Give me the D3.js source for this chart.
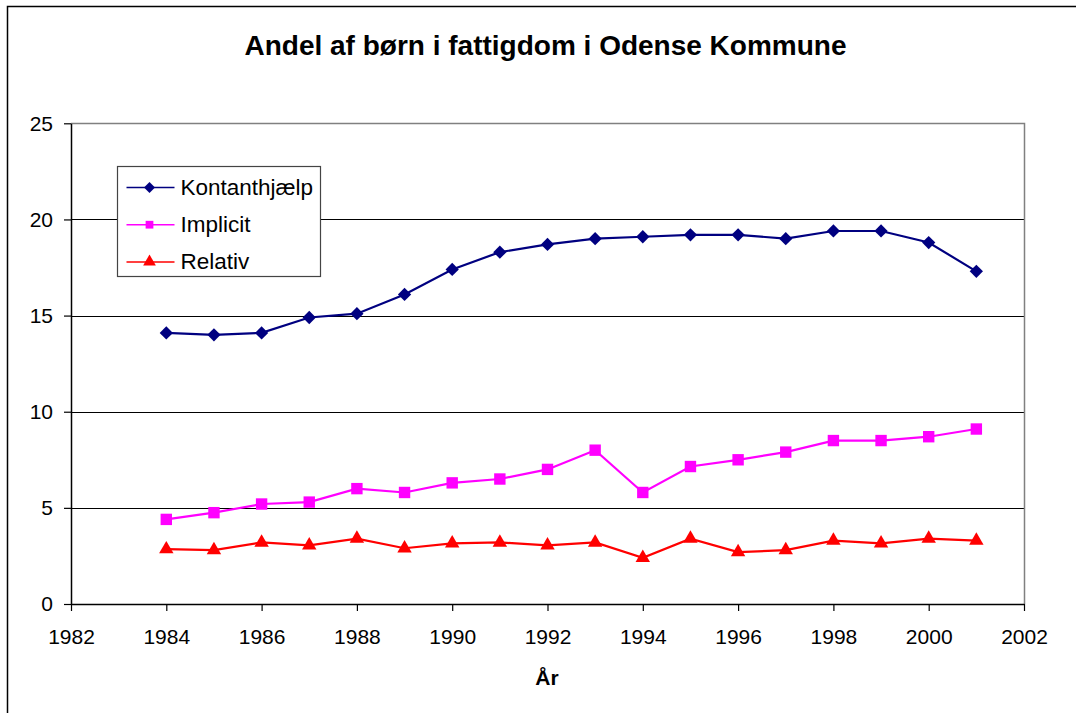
<!DOCTYPE html>
<html>
<head>
<meta charset="utf-8">
<script src="https://cdn.jsdelivr.net/npm/d3@7"></script>
<style>
  body { margin: 0; background: #fff; }
  svg { display: block; font-family: Arial, "Liberation Sans", sans-serif; }
</style>
</head>
<body>
<svg id="chart"></svg>
<script>
const years = [1984, 1985, 1986, 1987, 1988, 1989, 1990, 1991, 1992, 1993,
  1994, 1995, 1996, 1997, 1998, 1999, 2000, 2001];
const kontanthjaelp = [14.1, 14.0, 14.1, 14.9, 15.1, 16.1, 17.4, 18.3, 18.7, 19.0,
  19.1, 19.2, 19.2, 19.0, 19.4, 19.4, 18.8, 17.3];
const implicit = [4.4, 4.75, 5.2, 5.3, 6.0, 5.8, 6.3, 6.5, 7.0, 8.0,
  5.8, 7.15, 7.5, 7.9, 8.5, 8.5, 8.7, 9.1];
const relativ = [2.85, 2.8, 3.2, 3.05, 3.4, 2.9, 3.15, 3.2, 3.05, 3.2,
  2.4, 3.4, 2.7, 2.8, 3.3, 3.15, 3.4, 3.3];
const xTicks = [1982, 1984, 1986, 1988, 1990, 1992, 1994, 1996, 1998, 2000, 2002];
const yTicks = [0, 5, 10, 15, 20, 25];

const width = 1076;
const height = 713;
const plot = { left: 71, right: 1024, top: 123.3, bottom: 604 };

const series = [
  { name: 'Kontanthjælp', values: kontanthjaelp, color: '#000080', shape: 'diamond' },
  { name: 'Implicit', values: implicit, color: '#ff00ff', shape: 'square' },
  { name: 'Relativ', values: relativ, color: '#ff0000', shape: 'triangle' }
];

const svg = d3.select('#chart')
  .attr('width', width)
  .attr('height', height);

// outer chart frame
svg.append('rect')
  .attr('x', 7.5).attr('y', 6.5)
  .attr('width', width + 20).attr('height', height + 20)
  .attr('fill', '#fff')
  .attr('stroke', '#000')
  .attr('stroke-width', 1.5);

const x = d3.scaleLinear().domain([1982, 2002]).range([plot.left, plot.right]);
const y = d3.scaleLinear().domain([0, 25]).range([plot.bottom, plot.top]);

// grid lines
svg.append('g')
  .selectAll('line')
  .data(yTicks.filter(d => d > 0 && d < 25))
  .enter()
  .append('line')
  .attr('x1', plot.left).attr('x2', plot.right)
  .attr('y1', d => Math.round(y(d)) + 0.5).attr('y2', d => Math.round(y(d)) + 0.5)
  .attr('stroke', '#000')
  .attr('stroke-width', 1);

// plot area border top / right
svg.append('path')
  .attr('d', `M${plot.left},${Math.round(plot.top) + 0.5}H${plot.right + 0.5}V${plot.bottom}`)
  .attr('fill', 'none')
  .attr('stroke', '#808080')
  .attr('stroke-width', 1.5);

const yAxis = svg.append('g')
  .attr('transform', `translate(${plot.left},0)`)
  .call(d3.axisLeft(y).tickValues(yTicks).tickSize(7).tickPadding(11).tickSizeOuter(0));

const xAxis = svg.append('g')
  .attr('transform', `translate(0,${plot.bottom})`)
  .call(d3.axisBottom(x).tickValues(xTicks).tickFormat(d3.format('d'))
    .tickSize(7).tickPadding(18).tickSizeOuter(0));

[yAxis, xAxis].forEach(ax => {
  ax.select('.domain').attr('stroke', '#000').attr('stroke-width', 1.5);
  ax.selectAll('.tick line').attr('stroke', '#000').attr('stroke-width', 1.2);
  ax.selectAll('text')
    .attr('fill', '#000')
    .style('font-size', '21px')
    .style('font-family', 'Arial, "Liberation Sans", sans-serif');
});
xAxis.selectAll('text').attr('dy', null).attr('y', 40);

// lines
const line = d3.line()
  .x((d, i) => x(years[i]))
  .y(d => y(d));

// diamond = square turned 45 degrees (Excel style)
const symbolOf = {
  diamond: d3.symbolSquare,
  square: d3.symbolSquare,
  triangle: d3.symbolTriangle
};
const sizeOf = { diamond: 88, square: 130, triangle: 90 };
const rotOf = { diamond: 45, square: 0, triangle: 0 };

series.forEach(s => {
  svg.append('path')
    .datum(s.values)
    .attr('d', line)
    .attr('fill', 'none')
    .attr('stroke', s.color)
    .attr('stroke-width', 2.2);

  svg.append('g')
    .selectAll('path')
    .data(s.values)
    .enter()
    .append('path')
    .attr('transform', (d, i) => `translate(${x(years[i])},${y(d)}) rotate(${rotOf[s.shape]})`)
    .attr('d', d3.symbol().type(symbolOf[s.shape]).size(sizeOf[s.shape]))
    .attr('fill', s.color);
});

// legend
const legend = svg.append('g').attr('transform', 'translate(117.5,166.5)');
legend.append('rect')
  .attr('width', 203).attr('height', 110)
  .attr('fill', '#fff')
  .attr('stroke', '#444')
  .attr('stroke-width', 1.2);

const rows = legend.selectAll('.row')
  .data(series)
  .enter()
  .append('g')
  .attr('transform', (d, i) => `translate(0,${21 + i * 37.2})`);

rows.append('line')
  .attr('x1', 9).attr('x2', 57)
  .attr('stroke', d => d.color)
  .attr('stroke-width', 1.5);

rows.append('path')
  .attr('transform', d => `translate(32,0) rotate(${rotOf[d.shape]})`)
  .attr('d', d => d3.symbol().type(symbolOf[d.shape]).size(d.shape === 'triangle' ? 70 : 60)())
  .attr('fill', d => d.color);

rows.append('text')
  .attr('x', 63)
  .attr('y', 7.5)
  .style('font-size', '22.5px')
  .attr('fill', '#000')
  .text(d => d.name);

// title and axis label
svg.append('text')
  .attr('x', 545.5)
  .attr('y', 55)
  .attr('text-anchor', 'middle')
  .style('font-size', '28px')
  .style('font-weight', 'bold')
  .text('Andel af børn i fattigdom i Odense Kommune');

svg.append('text')
  .attr('x', 547)
  .attr('y', 685)
  .attr('text-anchor', 'middle')
  .style('font-size', '21px')
  .style('font-weight', 'bold')
  .text('År');
</script>
</body>
</html>
